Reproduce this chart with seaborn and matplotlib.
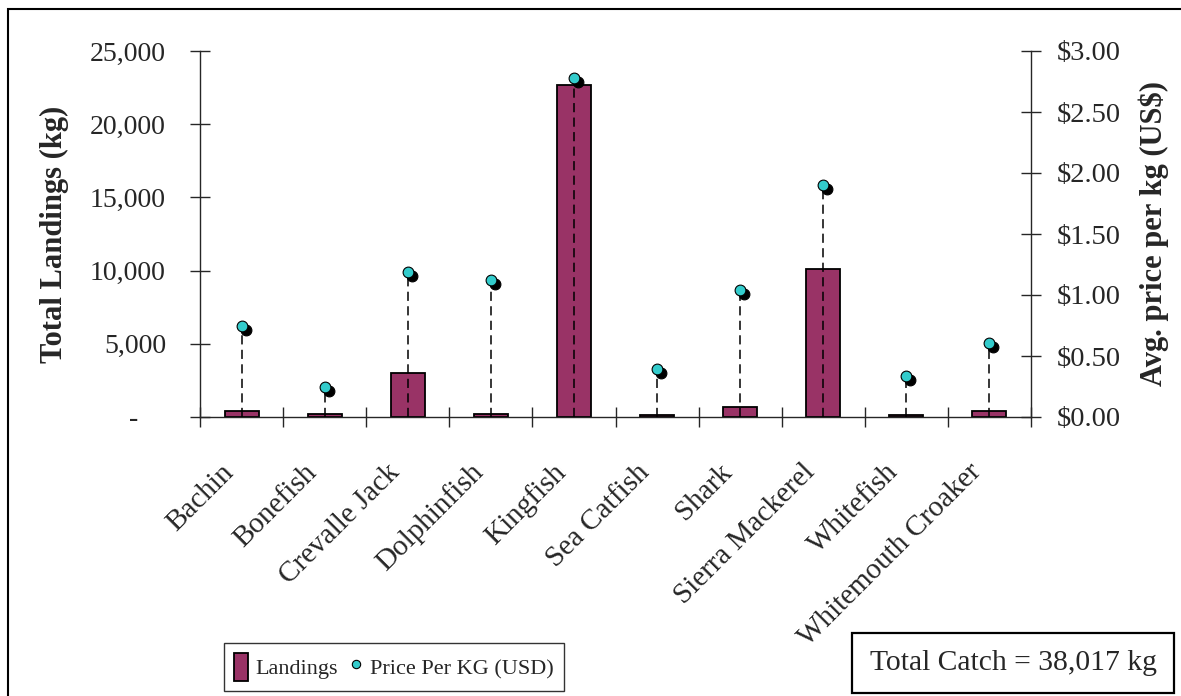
import numpy as np
import matplotlib
matplotlib.use("Agg")
import matplotlib.pyplot as plt
import matplotlib.transforms as mtransforms
from matplotlib.patches import Patch, Rectangle
from matplotlib.lines import Line2D
from matplotlib.ticker import FuncFormatter, FixedLocator
import seaborn as sns

# data
species = ["Bachin", "Bonefish", "Crevalle Jack", "Dolphinfish", "Kingfish",
           "Sea Catfish", "Shark", "Sierra Mackerel", "Whitefish",
           "Whitemouth Croaker"]
landings_kg = [420, 180, 3000, 180, 22700, 160, 680, 10100, 170, 400]
price_usd = [0.75, 0.25, 1.19, 1.12, 2.78, 0.39, 1.04, 1.90, 0.34, 0.61]
total_catch = 38017

sns.set_style("ticks")
plt.rcParams["font.family"] = ["Liberation Serif", "DejaVu Serif"]

BAR = "#993366"
DOT = "#33CCCC"

fig = plt.figure(figsize=(11.81, 6.96), dpi=100)
ax = fig.add_axes([200 / 1181, 1 - 417 / 696, 831 / 1181, 366 / 696])
xpos = np.arange(len(species))

sns.barplot(x=xpos, y=landings_kg, color=BAR, saturation=1, width=0.41,
            edgecolor="black", linewidth=1.3, ax=ax)
ax.set_xlim(-0.5, len(species) - 0.5)
ax.set_ylim(0, 25000)

ax2 = ax.twinx()
ax2.set_ylim(0, 3)
ax2.vlines(xpos, 0, price_usd, colors="black", linestyles=(0, (6, 3.5)),
           linewidth=1.1, zorder=2)
shadow = mtransforms.offset_copy(ax2.transData, fig=fig, x=4, y=-4, units="dots")
ax2.scatter(xpos, price_usd, s=60, color="black", edgecolor="black",
            linewidth=0.8, transform=shadow, zorder=3)
sns.scatterplot(x=xpos, y=price_usd, s=60, color=DOT, edgecolor="black",
                linewidth=0.8, zorder=4, ax=ax2)

# axes styling
for a in (ax, ax2):
    a.spines["top"].set_visible(False)
    for s in a.spines.values():
        s.set_linewidth(1.0)
ax.spines["right"].set_visible(False)
ax2.spines["left"].set_visible(False)
ax2.spines["bottom"].set_visible(False)
ax.grid(False)
ax2.grid(False)

ax.set_yticks(np.arange(0, 25001, 5000))
ax.yaxis.set_major_formatter(FuncFormatter(
    lambda v, p: "-    " if v == 0 else f"{v:,.0f}"))
ax2.set_yticks(np.arange(0, 3.01, 0.5))
ax2.yaxis.set_major_formatter(FuncFormatter(lambda v, p: f"${v:.2f}"))
ax.tick_params(axis="y", direction="inout", length=15, width=1.0, pad=17,
               labelsize=20)
ax2.tick_params(axis="y", direction="inout", length=15, width=1.0, pad=11,
                labelsize=20.5)

ax.set_xticks(xpos)
ax.set_xticklabels(species, rotation=45, ha="right", va="center",
                   rotation_mode="anchor", fontsize=21)
ax.xaxis.set_minor_locator(FixedLocator(np.arange(-0.5, len(species), 1.0)))
ax.tick_params(axis="x", which="major", length=0, pad=37)
ax.tick_params(axis="x", which="minor", direction="inout", length=15, width=1.0)
shift = mtransforms.ScaledTranslation(-12 / 100, 0, fig.dpi_scale_trans)
for lbl in ax.get_xticklabels():
    lbl.set_transform(lbl.get_transform() + shift)

ax.set_xlabel("")
ax.set_ylabel("Total Landings (kg)", fontsize=22, fontweight="bold", labelpad=15)
ax2.set_ylabel("Avg. price per kg (US$)", fontsize=22, fontweight="bold",
               labelpad=13)

# legend
handles = [Patch(facecolor=BAR, edgecolor="black", linewidth=1.3, label="Landings"),
           Line2D([], [], marker="o", linestyle="none", markersize=6,
                  markerfacecolor=DOT, markeredgecolor="black",
                  markeredgewidth=0.8, label="Price Per KG (USD)")]
leg = fig.legend(handles=handles, loc="center", ncol=2,
                 bbox_to_anchor=(394 / 1181, 1 - 667 / 696), fontsize=16,
                 frameon=True, fancybox=False, handlelength=0.6,
                 handleheight=1.5, handletextpad=0.35, columnspacing=0.5,
                 borderpad=0.45, borderaxespad=0)
leg.get_frame().set_edgecolor("black")
leg.get_frame().set_linewidth(1.0)

fig.text(1013 / 1181, 1 - 663 / 696, f"Total Catch = {total_catch:,} kg",
         ha="center", va="center", fontsize=21.3,
         bbox=dict(boxstyle="square,pad=0.58", facecolor="white",
                   edgecolor="black", linewidth=1.6))

# chart area border
fig.add_artist(Rectangle((8 / 1181, -0.1), 1.2, 1.1 - 9 / 696,
                         transform=fig.transFigure, fill=False,
                         edgecolor="black", linewidth=1.5))

fig.savefig("out.png", dpi=100)
